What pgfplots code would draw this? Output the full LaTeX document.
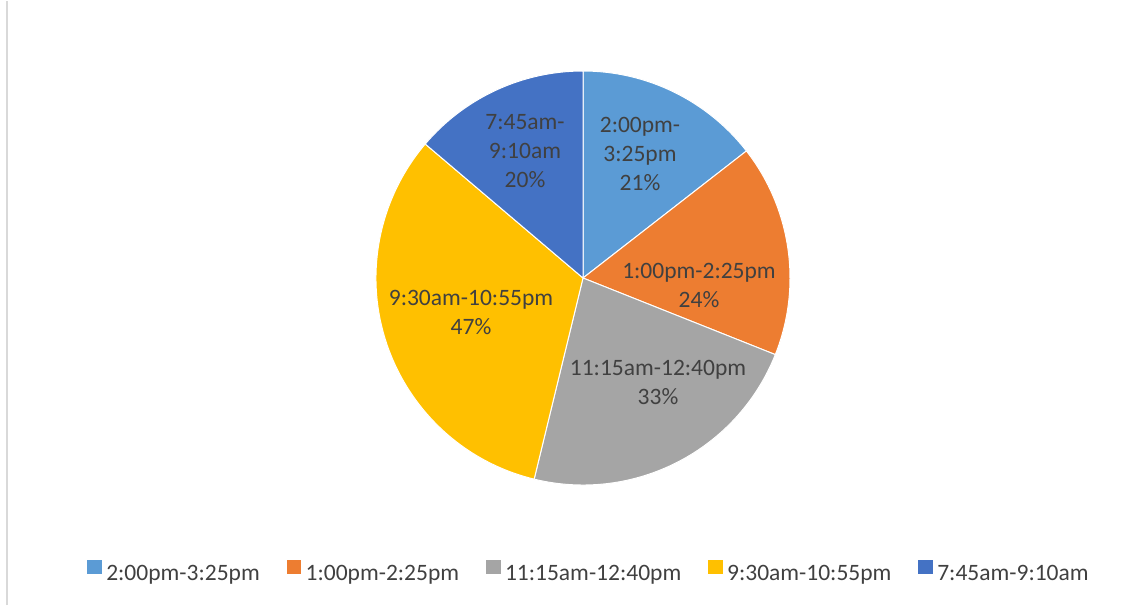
\documentclass[border=0pt]{standalone}
\usepackage{pgfplots}
\pgfplotsset{compat=1.18}
\usepackage{pgfplotstable}
\usepackage{fontspec}
\setmainfont{Carlito}
\definecolor{c0}{HTML}{5B9BD5}
\definecolor{c1}{HTML}{ED7D31}
\definecolor{c2}{HTML}{A5A5A5}
\definecolor{c3}{HTML}{FFC000}
\definecolor{c4}{HTML}{4472C4}
\definecolor{txt}{HTML}{404040}
\definecolor{frame}{HTML}{D9D9D9}

\pgfplotstableread{
value
21
24
33
47
20
}\piedata

\begin{document}
\begin{tikzpicture}
% cumulative angles from the data (clockwise from 12 o'clock)
\xdef\pietotal{0}%
\foreach \i in {0,...,4}{%
  \pgfplotstablegetelem{\i}{value}\of\piedata
  \pgfmathsetmacro\tmp{\pietotal+\pgfplotsretval}%
  \xdef\pietotal{\tmp}%
}%
\xdef\cum{0}%
\foreach \i in {0,...,4}{%
  \pgfplotstablegetelem{\i}{value}\of\piedata
  \pgfmathsetmacro\a{90-360*(\cum/\pietotal)}%
  \pgfmathsetmacro\newcum{\cum+\pgfplotsretval}%
  \pgfmathsetmacro\b{90-360*(\newcum/\pietotal)}%
  \expandafter\xdef\csname pieA\i\endcsname{\a}%
  \expandafter\xdef\csname pieB\i\endcsname{\b}%
  \xdef\cum{\newcum}%
}%
\begin{axis}[
  scale only axis, width=1145pt, height=604pt,
  xmin=0, xmax=1145, ymin=0, ymax=604,
  hide axis, clip=false,
  legend columns=5,
  legend style={
    at={(axis cs:588,34)}, anchor=center,
    draw=none, fill=none, text=txt,
    font=\fontsize{23.5}{28}\selectfont,
    column sep=0pt,
    /tikz/every odd column/.append style={column sep=5pt},
    /tikz/every even column/.append style={column sep=27pt},
    nodes={inner sep=0pt},
  },
]
\path (axis cs:0,0) rectangle (axis cs:1145,604);
\draw[frame, line width=2pt] (axis cs:7,0) -- (axis cs:7,604);
\pgfplotsinvokeforeach{0,...,4}{%
  \fill[c#1, draw=white, line width=1pt] (axis cs:583,327) -- ++(\csname pieA#1\endcsname:207pt)
    arc[start angle=\csname pieA#1\endcsname, end angle=\csname pieB#1\endcsname, radius=207pt] -- cycle;
}
\begin{scope}[every node/.style={align=center, text=txt, font=\fontsize{23.5}{29}\selectfont}]
\node at (axis cs:640,451) {2:00pm-\\3:25pm\\21\%};
\node at (axis cs:699,320) {1:00pm-2:25pm\\24\%};
\node at (axis cs:658,223) {11:15am-12:40pm\\33\%};
\node at (axis cs:471,293) {9:30am-10:55pm\\47\%};
\node at (axis cs:525,454) {7:45am-\\9:10am\\20\%};
\end{scope}
\addlegendimage{legend image code/.code={\fill[c0] (0pt,0pt) rectangle (13.5pt,13.5pt);}}
\addlegendentry{2:00pm-3:25pm}
\addlegendimage{legend image code/.code={\fill[c1] (0pt,0pt) rectangle (13.5pt,13.5pt);}}
\addlegendentry{1:00pm-2:25pm}
\addlegendimage{legend image code/.code={\fill[c2] (0pt,0pt) rectangle (13.5pt,13.5pt);}}
\addlegendentry{11:15am-12:40pm}
\addlegendimage{legend image code/.code={\fill[c3] (0pt,0pt) rectangle (13.5pt,13.5pt);}}
\addlegendentry{9:30am-10:55pm}
\addlegendimage{legend image code/.code={\fill[c4] (0pt,0pt) rectangle (13.5pt,13.5pt);}}
\addlegendentry{7:45am-9:10am}
\end{axis}
\end{tikzpicture}
\end{document}
